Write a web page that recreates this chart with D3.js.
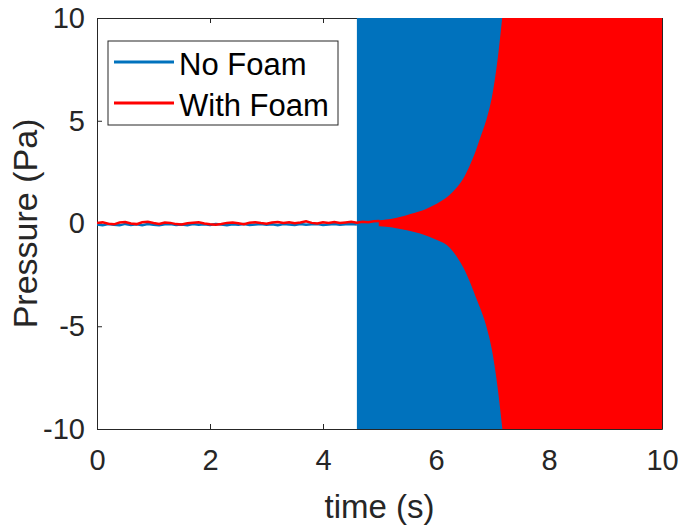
<!DOCTYPE html>
<html><head><meta charset="utf-8">
<script src="https://cdn.jsdelivr.net/npm/d3@7"></script>
<style>html,body{margin:0;padding:0;background:#fff}svg{display:block}</style>
</head><body>
<script>
// ---- data ----
const xTicks = [0, 2, 4, 6, 8, 10];
const yTicks = [-10, -5, 0, 5, 10];
const seriesNames = ["No Foam", "With Foam"];
const seriesColors = ["#0072BD", "#FF0000"];
// low-level noisy trace before growth (time step 0.1 s)
const blueNoiseStart = 0, blueNoiseStep = 0.1;
const blueNoise = [-0.05,-0.08,-0.03,-0.06,-0.09,-0.02,-0.07,-0.04,-0.08,-0.03,-0.06,-0.09,-0.04,-0.02,-0.07,-0.05,-0.08,-0.03,-0.06,-0.04,-0.07,-0.02,-0.05,-0.08,-0.04,-0.06,-0.03,-0.07,-0.05,-0.02,-0.06,-0.04,-0.08,-0.03,-0.05,-0.07,-0.02,-0.06,-0.04,-0.03,-0.07,-0.05,-0.02,-0.06,-0.04,-0.03,-0.05];
const redNoiseStart = 0, redNoiseStep = 0.1;
const redNoise = [0.02,0.06,-0.01,-0.04,0.05,0.07,0.0,-0.03,0.06,0.08,0.02,-0.02,0.05,0.03,-0.03,-0.05,0.01,0.04,0.06,0.0,-0.04,-0.06,-0.02,0.03,0.05,0.01,-0.03,0.04,0.06,0.02,-0.01,0.05,0.07,0.02,0.06,0.01,0.05,0.11,0.03,0.0,0.06,0.03,0.07,0.02,0.05,0.08,0.04,0.09,0.06,0.11,0.12];
// envelopes of the fast oscillation
const blueEnvTime  = [4.6, 10];
const blueEnvUpper = [40, 40];
const blueEnvLower = [-40, -40];
const redEnvTime  = [5.0, 5.2, 5.4, 5.6, 5.8, 6.0, 6.2, 6.3, 6.4, 6.5, 6.6, 6.7, 6.8, 6.9, 7.0, 7.1, 7.2, 7.4, 10];
const redEnvUpper = [0.12,0.18,0.3,0.46,0.64,0.9,1.25,1.5,1.8,2.2,2.75,3.4,4.2,5.0,6.1,7.9,10.4,16,16];
const redEnvLower = [-0.1,-0.15,-0.25,-0.37,-0.52,-0.74,-1.02,-1.3,-1.68,-2.15,-2.75,-3.45,-4.15,-4.95,-6.1,-7.9,-10.3,-16,-16];

// ---- layout ----
const W = 680, H = 529;
const M = {l: 97, r: 662, t: 18, b: 429};
const FONT = '"Liberation Sans", Arial, Helvetica, sans-serif';
const AX = '#262626';

const svg = d3.select('body').append('svg').attr('width', W).attr('height', H)
  .style('font-family', FONT);

const x = d3.scaleLinear().domain([0, 10]).range([M.l, M.r]);
const y = d3.scaleLinear().domain([-10, 10]).range([M.b, M.t]);

// axes box (drawn below data)
const axisG = svg.append('g');
const tickLen = 5;
const fmt = d => String(d);
const gBottom = axisG.append('g').attr('transform', `translate(0,${M.b})`)
  .call(d3.axisBottom(x).tickValues(xTicks).tickSizeInner(-tickLen).tickSizeOuter(0).tickPadding(20).tickFormat(fmt));
axisG.append('g').attr('transform', `translate(0,${M.t})`)
  .call(d3.axisTop(x).tickValues(xTicks).tickSizeInner(-tickLen).tickSizeOuter(0).tickFormat(''));
axisG.append('g').attr('transform', `translate(${M.l},0)`)
  .call(d3.axisLeft(y).tickValues(yTicks).tickSizeInner(-tickLen).tickSizeOuter(0).tickPadding(12).tickFormat(fmt));
axisG.append('g').attr('transform', `translate(${M.r},0)`)
  .call(d3.axisRight(y).tickValues(yTicks).tickSizeInner(-tickLen).tickSizeOuter(0).tickFormat(''));
axisG.selectAll('.domain').attr('stroke', AX).attr('stroke-width', 1);
axisG.selectAll('.tick line').attr('stroke', AX).attr('stroke-width', 1);
axisG.selectAll('.tick text').attr('fill', AX).style('font-size', '29px').style('font-family', FONT);
gBottom.selectAll('.tick text').attr('dy', '0.71em');

// data
svg.append('clipPath').attr('id', 'clip').append('rect')
  .attr('x', M.l).attr('y', M.t).attr('width', M.r - M.l).attr('height', M.b - M.t);
const dataG = svg.append('g').attr('clip-path', 'url(#clip)');

const lineGen = d3.line().x(d => x(d[0])).y(d => y(d[1]));
const areaGen = d3.area().curve(d3.curveMonotoneX).x(d => x(d[0])).y0(d => y(d[2])).y1(d => y(d[1]));

const blueLine = blueNoise.map((v, i) => [blueNoiseStart + i * blueNoiseStep, v]);
const blueArea = blueEnvTime.map((t, i) => [t, blueEnvUpper[i], blueEnvLower[i]]);
const redLine = redNoise.map((v, i) => [redNoiseStart + i * redNoiseStep, v]);
const redArea = redEnvTime.map((t, i) => [t, redEnvUpper[i], redEnvLower[i]]);

dataG.append('path').datum(blueLine).attr('d', lineGen)
  .attr('fill', 'none').attr('stroke', seriesColors[0]).attr('stroke-width', 2.5);
dataG.append('path').datum(blueArea).attr('d', d3.area().x(d => x(d[0])).y0(d => y(d[2])).y1(d => y(d[1])))
  .attr('fill', seriesColors[0]);
dataG.append('path').datum(redLine).attr('d', lineGen)
  .attr('fill', 'none').attr('stroke', seriesColors[1]).attr('stroke-width', 2.5);
dataG.append('path').datum(redArea).attr('d', areaGen).attr('fill', seriesColors[1])
  .attr('stroke', seriesColors[1]).attr('stroke-width', 1.5);

// axis labels
svg.append('text').attr('x', (M.l + M.r) / 2).attr('y', 518).attr('text-anchor', 'middle')
  .attr('fill', AX).style('font-size', '33px').text('time (s)');
svg.append('text').attr('transform', `translate(37,${(M.t + M.b) / 2}) rotate(-90)`)
  .attr('text-anchor', 'middle').attr('fill', AX).style('font-size', '34px').text('Pressure (Pa)');

// legend
const lg = svg.append('g');
lg.append('rect').attr('x', 108).attr('y', 41).attr('width', 230).attr('height', 84)
  .attr('fill', '#fff').attr('stroke', AX).attr('stroke-width', 1);
const lgY = [62, 103];
seriesNames.forEach((name, i) => {
  lg.append('line').attr('x1', 114).attr('x2', 174).attr('y1', lgY[i]).attr('y2', lgY[i])
    .attr('stroke', seriesColors[i]).attr('stroke-width', 3);
  lg.append('text').attr('x', 179).attr('y', lgY[i] + 13).attr('fill', '#000')
    .style('font-size', '31px').attr('textLength', null).text(name);
});
</script>
</body></html>
